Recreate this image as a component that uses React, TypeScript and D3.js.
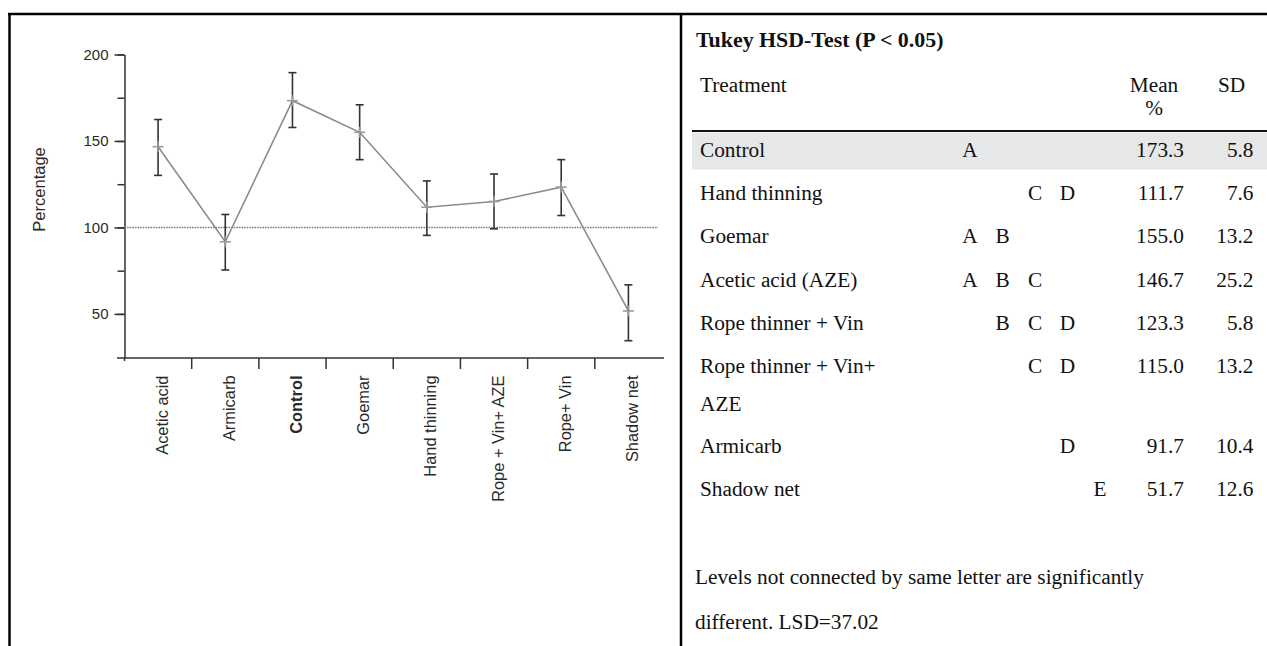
import React, { useEffect, useRef } from 'react';
import * as d3 from 'd3';

// chart series
const categories = ['Acetic acid', 'Armicarb', 'Control', 'Goemar', 'Hand thinning', 'Rope + Vin+ AZE', 'Rope+ Vin', 'Shadow net'];
const means = [146.7, 91.7, 173.3, 155.0, 111.7, 115.0, 123.3, 51.7];
const upper = [162.4, 107.5, 189.5, 170.9, 126.9, 130.9, 139.2, 66.8];
const lower = [130.1, 75.4, 157.8, 139.2, 95.4, 99.2, 106.9, 34.5];
const yTicks = [50, 75, 100, 125, 150, 175, 200];
const yLabelTicks = [50, 100, 150, 200];
const referenceLevel = 100;
const boldCategory = 'Control';

// Tukey table
const tableTitle = 'Tukey HSD-Test (P < 0.05)';
const tableTreatments = [['Control'], ['Hand thinning'], ['Goemar'], ['Acetic acid (AZE)'], ['Rope thinner + Vin'], ['Rope thinner + Vin+', 'AZE'], ['Armicarb'], ['Shadow net']];
const tableLetters = [['A'], ['C', 'D'], ['A', 'B'], ['A', 'B', 'C'], ['B', 'C', 'D'], ['C', 'D'], ['D'], ['E']];
const letterColumns = ['A', 'B', 'C', 'D', 'E'];
const tableMeans = [173.3, 111.7, 155.0, 146.7, 123.3, 115.0, 91.7, 51.7];
const tableSD = [5.8, 7.6, 13.2, 25.2, 5.8, 13.2, 10.4, 12.6];
const footnote = ['Levels not connected by same letter are significantly', 'different. LSD=37.02'];

const W = 1267;
const H = 646;

const App: React.FC = () => {
  const ref = useRef<SVGSVGElement>(null);

  useEffect(() => {
    if (!ref.current) return;
    const svg = d3.select(ref.current);
    svg.selectAll('*').remove();

    // frame
    const frame = svg.append('g').attr('stroke', '#000').attr('stroke-width', 2.5);
    frame.append('line').attr('x1', 8).attr('x2', W).attr('y1', 14).attr('y2', 14);
    frame.append('line').attr('x1', 9.5).attr('x2', 9.5).attr('y1', 13).attr('y2', H);
    frame.append('line').attr('x1', 681).attr('x2', 681).attr('y1', 13).attr('y2', H);

    // ---- chart ----
    const sans = '"Liberation Sans", Arial, sans-serif';
    const axisColor = '#333';
    const x = d3.scaleBand().domain(categories).range([124.5, 662]);
    const y = d3.scaleLinear().domain([24.5, 200]).range([358, 54.5]);
    const cx = (c: string) => (x(c) as number) + x.bandwidth() / 2;

    const chart = svg.append('g').attr('font-family', sans);

    // y axis: minor ticks
    chart.append('g')
      .attr('transform', 'translate(124.5,0)')
      .call(d3.axisLeft(y).tickValues(yTicks).tickSize(7).tickSizeOuter(0).tickFormat(() => ''))
      .call(g => g.selectAll('line, path').attr('stroke', axisColor).attr('stroke-width', 1.5));

    // y axis: major ticks + labels
    chart.append('g')
      .attr('transform', 'translate(124.5,0)')
      .call(d3.axisLeft(y).tickValues(yLabelTicks).tickSize(10).tickSizeOuter(0).tickPadding(6))
      .call(g => g.select('.domain').remove())
      .call(g => g.selectAll('line').attr('stroke', axisColor).attr('stroke-width', 1.5))
      .call(g => g.selectAll('text').attr('font-size', 15).attr('font-family', sans).attr('fill', '#2a2a2a'));

    chart.append('text')
      .attr('transform', `translate(45,${y(referenceLevel) - 38}) rotate(-90)`)
      .attr('text-anchor', 'middle')
      .attr('font-size', 16.5)
      .attr('fill', '#2a2a2a')
      .text('Percentage');

    // x axis
    const x0 = y.range()[0];
    chart.append('line')
      .attr('x1', 117).attr('x2', 664).attr('y1', x0).attr('y2', x0)
      .attr('stroke', axisColor).attr('stroke-width', 1.5);
    chart.append('line')
      .attr('x1', 124.5).attr('x2', 124.5).attr('y1', x0).attr('y2', x0 + 3)
      .attr('stroke', axisColor).attr('stroke-width', 1.5);
    chart.selectAll('.xtick')
      .data(categories.slice(1))
      .enter()
      .append('line')
      .attr('x1', d => x(d) as number)
      .attr('x2', d => x(d) as number)
      .attr('y1', x0)
      .attr('y2', x0 + 11)
      .attr('stroke', axisColor)
      .attr('stroke-width', 1.5);

    chart.selectAll('.xlabel')
      .data(categories)
      .enter()
      .append('text')
      .attr('transform', d => `translate(${cx(d) + 9.5},375.5) rotate(-90)`)
      .attr('text-anchor', 'end')
      .attr('font-size', 16.4)
      .attr('font-weight', d => (d === boldCategory ? 'bold' : 'normal'))
      .attr('fill', '#2a2a2a')
      .text(d => d);

    // reference line
    chart.append('line')
      .attr('x1', 124.5).attr('x2', 658)
      .attr('y1', y(referenceLevel)).attr('y2', y(referenceLevel))
      .attr('stroke', '#7a7a7a')
      .attr('stroke-width', 1.6)
      .attr('stroke-dasharray', '1.6,1');

    // mean line
    const line = d3.line<number>()
      .x((_, i) => cx(categories[i]))
      .y(d => y(d));
    chart.append('path')
      .datum(means)
      .attr('d', line)
      .attr('fill', 'none')
      .attr('stroke', '#8c8c8c')
      .attr('stroke-width', 1.6);

    // error bars
    const eb = chart.append('g').attr('stroke', '#333').attr('stroke-width', 1.6);
    categories.forEach((c, i) => {
      const px = cx(c);
      eb.append('line').attr('x1', px).attr('x2', px).attr('y1', y(lower[i])).attr('y2', y(upper[i]));
      eb.append('line').attr('x1', px - 4).attr('x2', px + 4).attr('y1', y(lower[i])).attr('y2', y(lower[i]));
      eb.append('line').attr('x1', px - 4).attr('x2', px + 4).attr('y1', y(upper[i])).attr('y2', y(upper[i]));
    });

    // markers
    const mk = chart.append('g').attr('stroke', '#9a9a9a').attr('stroke-width', 1.6);
    means.forEach((m, i) => {
      const px = cx(categories[i]);
      const py = y(m);
      mk.append('line').attr('x1', px - 5.5).attr('x2', px + 5.5).attr('y1', py).attr('y2', py);
      mk.append('line').attr('x1', px).attr('x2', px).attr('y1', py - 5.5).attr('y2', py + 5.5);
    });

    // ---- table ----
    const serif = '"Liberation Serif", "Times New Roman", serif';
    const table = svg.append('g').attr('font-family', serif).attr('font-size', 21.3).attr('fill', '#111');

    // highlighted first row + header rule
    table.append('rect')
      .attr('x', 692).attr('y', 132.5)
      .attr('width', W - 692).attr('height', 37)
      .attr('fill', '#e6e7e8');
    table.append('line')
      .attr('x1', 692).attr('x2', W).attr('y1', 131).attr('y2', 131)
      .attr('stroke', '#111').attr('stroke-width', 2.2);

    table.append('text')
      .attr('x', 696).attr('y', 47)
      .attr('font-weight', 'bold')
      .attr('font-size', 21.9)
      .text(tableTitle);

    table.append('text').attr('x', 700).attr('y', 92).text('Treatment');
    table.append('text').attr('x', 1154).attr('y', 92).attr('text-anchor', 'middle').text('Mean');
    table.append('text').attr('x', 1154).attr('y', 115).attr('text-anchor', 'middle').text('%');
    table.append('text').attr('x', 1231.5).attr('y', 92).attr('text-anchor', 'middle').text('SD');

    const rowStep = 43.3;
    const wrapStep = 37.4;
    const letterX = d3.scalePoint<string>().domain(letterColumns).range([970, 1100]);

    const baselines: number[] = [];
    let yy = 156.7;
    tableTreatments.forEach(lines => {
      baselines.push(yy);
      yy += rowStep + (lines.length - 1) * 36;
    });

    const fmt = d3.format('.1f');
    tableTreatments.forEach((lines, i) => {
      const by = baselines[i];
      lines.forEach((t, j) => {
        table.append('text').attr('x', 700).attr('y', by + j * wrapStep).text(t);
      });
      tableLetters[i].forEach(l => {
        table.append('text')
          .attr('x', letterX(l) as number).attr('y', by)
          .attr('text-anchor', 'middle')
          .text(l);
      });
      table.append('text').attr('x', 1184).attr('y', by).attr('text-anchor', 'end').text(fmt(tableMeans[i]));
      table.append('text').attr('x', 1253.5).attr('y', by).attr('text-anchor', 'end').text(fmt(tableSD[i]));
    });

    footnote.forEach((t, i) => {
      table.append('text').attr('x', 695).attr('y', 584 + i * 45.3).text(t);
    });
  }, []);

  return (
    <svg
      ref={ref}
      width={W}
      height={H}
      style={{ position: 'absolute', left: 0, top: 0, background: '#fff' }}
    />
  );
};

export default App;
